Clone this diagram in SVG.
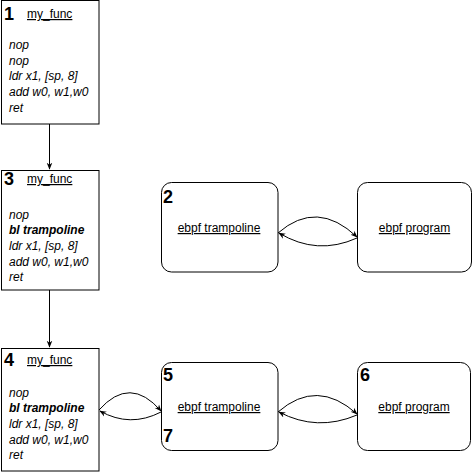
<svg xmlns="http://www.w3.org/2000/svg" width="474" height="474" viewBox="0 0 474 474">
<defs>
<marker id="arr" viewBox="0 0 10 10" refX="9" refY="5" markerWidth="7" markerHeight="7" orient="auto" markerUnits="userSpaceOnUse">
<path d="M0,1 L10,5 L0,9 L3,5 Z" fill="#000"/>
</marker>
<style>
.box{fill:#fff;stroke:#000;stroke-width:1}
.rbox{fill:#fff;stroke:#000;stroke-width:1}
.num{font-family:"Liberation Sans",Arial,sans-serif;font-size:18px;font-weight:bold;fill:#000}
.title{font-family:"Liberation Sans",Arial,sans-serif;font-size:12px;fill:#000;text-decoration:underline}
.code{font-family:"Liberation Sans",Arial,sans-serif;font-size:12px;font-style:italic;fill:#000}
.b{font-weight:bold}
.lbl{font-family:"Liberation Sans",Arial,sans-serif;font-size:12px;fill:#000;text-decoration:underline;text-anchor:middle}
.edge{fill:none;stroke:#000;stroke-width:1;marker-end:url(#arr)}
</style>
</defs>
<rect width="474" height="474" fill="#fff"/>
<g id="connectors">
<path class="edge" d="M49.5 124 L49.5 169"/>
<path class="edge" d="M49.5 290 L49.5 347"/>
<path class="edge" d="M278 233 Q317 199 357 237"/>
<path class="edge" d="M357 238 Q317 256 279 233"/>
<path class="edge" d="M99 410 Q130 375 161 411"/>
<path class="edge" d="M161 412 Q130 428 100 411"/>
<path class="edge" d="M278 412 Q317 378 357 414"/>
<path class="edge" d="M357 415 Q317 432 279 412"/>
</g>
<g id="node1">
<rect class="box" x="1.5" y="0.5" width="97.5" height="123.5"/>
<text class="num" x="4" y="20">1</text>
<text class="title" x="27" y="18">my_func</text>
<text class="code" x="9" y="49">nop</text>
<text class="code" x="9" y="64.7">nop</text>
<text class="code" x="9" y="80.4">ldr x1, [sp, 8]</text>
<text class="code" x="9" y="96.1">add w0, w1,w0</text>
<text class="code" x="9" y="111.8">ret</text>
</g>
<g id="node3">
<rect class="box" x="1.5" y="170.5" width="97.5" height="119.5"/>
<text class="num" x="4" y="185">3</text>
<text class="title" x="27" y="183">my_func</text>
<text class="code" x="9" y="218.5">nop</text>
<text class="code b" x="9" y="234.2">bl trampoline</text>
<text class="code" x="9" y="249.9">ldr x1, [sp, 8]</text>
<text class="code" x="9" y="265.6">add w0, w1,w0</text>
<text class="code" x="9" y="281.3">ret</text>
</g>
<g id="node4">
<rect class="box" x="1.5" y="348.5" width="97.5" height="122.5"/>
<text class="num" x="4" y="366">4</text>
<text class="title" x="27" y="364">my_func</text>
<text class="code" x="9" y="396.5">nop</text>
<text class="code b" x="9" y="412.2">bl trampoline</text>
<text class="code" x="9" y="427.9">ldr x1, [sp, 8]</text>
<text class="code" x="9" y="443.6">add w0, w1,w0</text>
<text class="code" x="9" y="459.3">ret</text>
</g>
<g id="node2">
<rect class="rbox" x="161.5" y="182.5" width="116.5" height="89.5" rx="10" ry="10"/>
<text class="num" x="163" y="203">2</text>
<text class="lbl" x="219" y="232">ebpf trampoline</text>
</g>
<g id="node2b">
<rect class="rbox" x="357.5" y="182.5" width="114" height="89.5" rx="10" ry="10"/>
<text class="lbl" x="414.5" y="232">ebpf program</text>
</g>
<g id="node5">
<rect class="rbox" x="161.5" y="362.5" width="116.5" height="88" rx="10" ry="10"/>
<text class="num" x="163" y="381">5</text>
<text class="num" x="163" y="442">7</text>
<text class="lbl" x="219" y="411">ebpf trampoline</text>
</g>
<g id="node6">
<rect class="rbox" x="357.5" y="362.5" width="113" height="88" rx="10" ry="10"/>
<text class="num" x="360" y="381">6</text>
<text class="lbl" x="414" y="411">ebpf program</text>
</g>
</svg>
